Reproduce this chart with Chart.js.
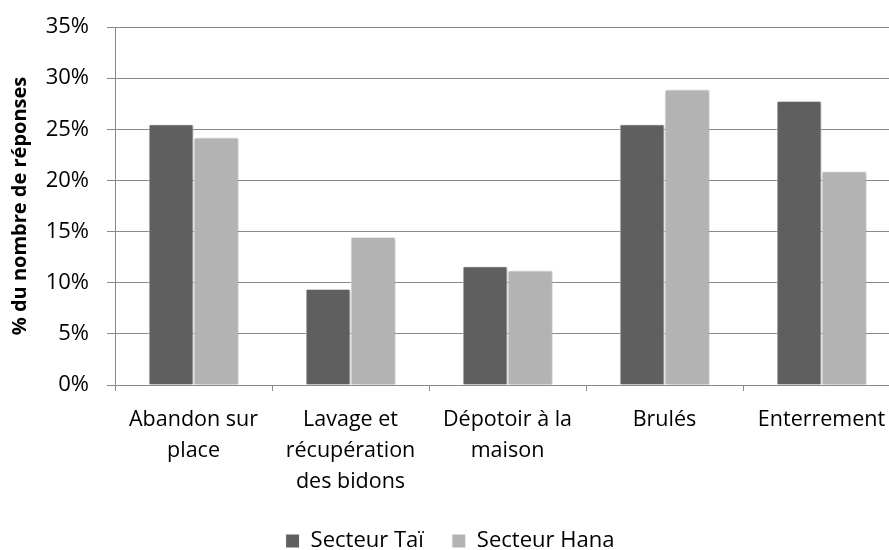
<!DOCTYPE html>
<html>
<head>
<meta charset="utf-8">
<script src="https://cdn.jsdelivr.net/npm/chart.js@4.4.1/dist/chart.umd.min.js"></script>
<style>
  html, body { margin: 0; padding: 0; background: #fff; overflow: hidden; }
  #wrap { width: 900px; height: 562px; }
</style>
</head>
<body>
<div id="wrap"><canvas id="myChart"></canvas></div>
<script>
// categories and values
const categories = [['Abandon sur', 'place'], ['Lavage et', 'récupération', 'des bidons'], ['Dépotoir à la', 'maison'], 'Brulés', 'Enterrement'];
const secteurTai = [25.5, 9.4, 11.6, 25.5, 27.8];
const secteurHana = [24.2, 14.5, 11.2, 28.9, 20.9];
const yTicks = [0, 5, 10, 15, 20, 25, 30, 35];

const font = 'Open Sans';

// soft shadow under the bars, like the excel chart
const barShadow = {
  id: 'barShadow',
  beforeDatasetsDraw(chart) {
    const c = chart.ctx;
    c.save();
    c.shadowColor = 'rgba(0,0,0,0.28)';
    c.shadowBlur = 3;
    c.shadowOffsetX = 1.5;
    c.shadowOffsetY = 1;
  },
  afterDatasetsDraw(chart) {
    chart.ctx.restore();
  }
};

const myChart = new Chart('myChart', {
  type: 'bar',
  data: {
    labels: categories,
    datasets: [{
      label: 'Secteur Taï',
      data: secteurTai,
      backgroundColor: '#5f5f5f',
      borderColor: '#ffffff',
      borderWidth: 1
    }, {
      label: 'Secteur Hana',
      data: secteurHana,
      backgroundColor: '#b3b3b3',
      borderColor: '#ffffff',
      borderWidth: 1
    }]
  },
  plugins: [barShadow],
  options: {
    responsive: true,
    maintainAspectRatio: false,
    animation: false,
    layout: { padding: { top: 27, left: 0, right: 0, bottom: 0 } },
    datasets: { bar: { categoryPercentage: 0.573, barPercentage: 1 } },
    plugins: {
      legend: {
        position: 'bottom',
        labels: {
          boxWidth: 14, boxHeight: 14, padding: 28,
          color: '#000', font: { family: font, size: 22 }
        }
      },
      tooltip: { enabled: false }
    },
    scales: {
      x: {
        grid: { display: true, drawOnChartArea: false, drawTicks: true, tickLength: 6, color: '#888', offset: true },
        border: { color: '#888' },
        ticks: { color: '#000', padding: 14, maxRotation: 0, autoSkip: false, font: { family: font, size: 21.5, lineHeight: 1.43 } },
        afterFit(scale) { scale.height = 117; }
      },
      y: {
        min: 0, max: 35,
        afterBuildTicks(scale) { scale.ticks = yTicks.map(v => ({ value: v })); },
        grid: { color: '#8a8a8a', tickLength: 8 },
        border: { color: '#888' },
        ticks: { color: '#000', padding: 18, font: { family: font, size: 22 }, callback: v => v + '%' },
        title: {
          display: true, text: '% du nombre de réponses', color: '#000',
          font: { family: font, size: 20, weight: 'bold' },
          padding: { top: 8, bottom: 0 }
        },
        afterFit(scale) {
          scale.width = 115;
          scale.paddingTop = 0;
          scale.paddingBottom = 0;
        }
      }
    }
  }
});
</script>
</body>
</html>
